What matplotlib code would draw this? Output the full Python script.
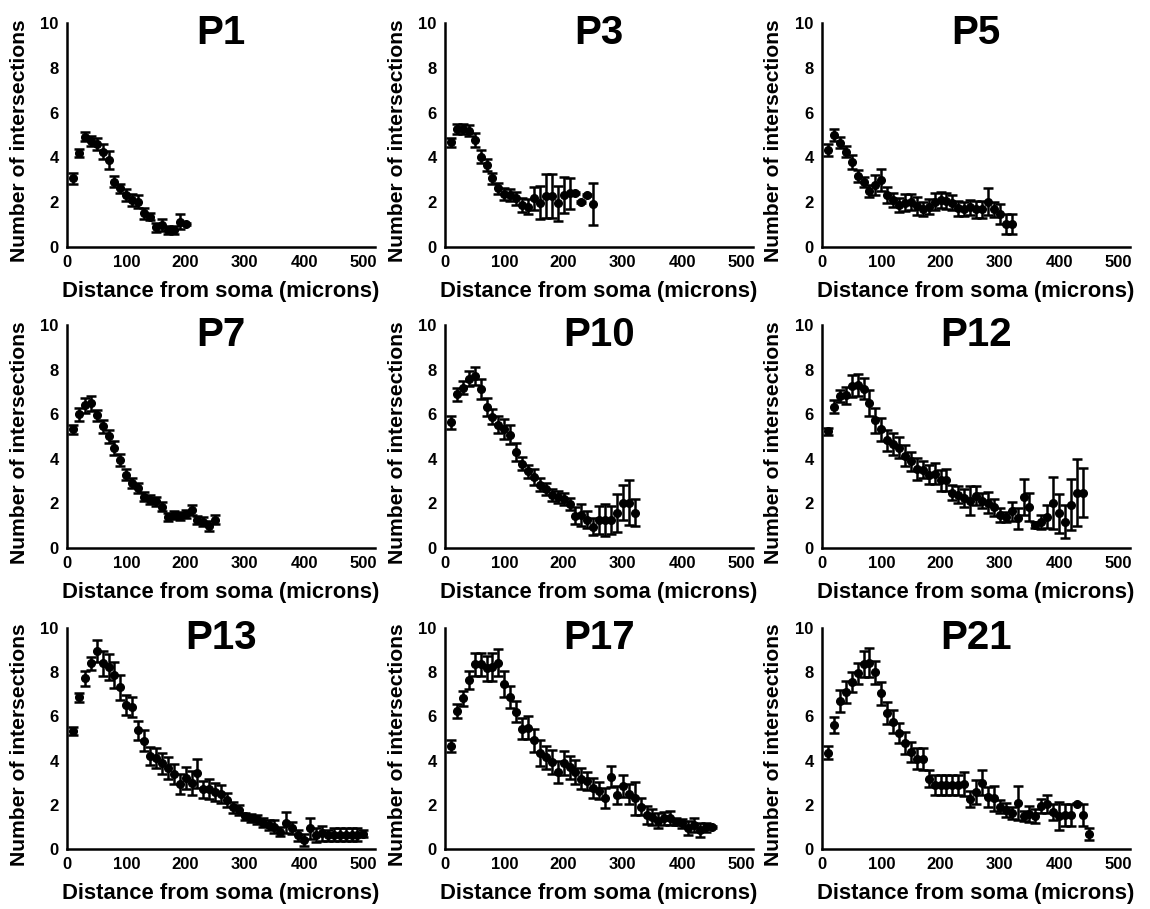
import numpy as np
import matplotlib.pyplot as plt

plt.rcParams['font.family'] = ['Liberation Sans', 'DejaVu Sans']
plt.rcParams['font.weight'] = 'bold'

# Sholl analysis: mean number of intersections (+/- SEM) every 10 microns from the soma
step = 10

p1_mean = [3.07, 4.18, 4.93, 4.75, 4.6, 4.25, 3.88, 2.92, 2.62, 2.32, 2.1, 2.02, 1.5, 1.35,
           0.88, 0.98, 0.76, 0.76, 1.13, 1.03]
p1_sem = [0.25, 0.18, 0.22, 0.22, 0.28, 0.34, 0.39, 0.25, 0.19, 0.26, 0.28, 0.28, 0.25, 0.15,
          0.2, 0.28, 0.19, 0.16, 0.33, 0.05]

p3_mean = [4.67, 5.27, 5.27, 5.19, 4.78, 4.03, 3.66, 3.07, 2.62, 2.37, 2.32, 2.17, 1.88, 1.8,
           2.17, 1.98, 2.28, 2.28, 1.95, 2.32, 2.4, 2.42, 2.02, 2.32, 1.92]
p3_sem = [0.2, 0.22, 0.22, 0.25, 0.33, 0.3, 0.28, 0.25, 0.24, 0.27, 0.25, 0.3, 0.32, 0.35,
          0.5, 0.75, 1.0, 0.97, 0.78, 0.8, 0.7, 0.05, 0.05, 0.05, 0.92]

p5_mean = [4.33, 5.0, 4.66, 4.25, 3.81, 3.17, 2.92, 2.51, 2.77, 2.99, 2.32, 2.1, 1.88, 1.98,
           2.02, 1.83, 1.68, 1.8, 2.02, 2.1, 2.05, 1.98, 1.73, 1.68, 1.77, 1.68, 1.68, 2.02,
           1.68, 1.47, 1.03, 1.03]
p5_sem = [0.25, 0.25, 0.25, 0.24, 0.31, 0.28, 0.22, 0.26, 0.45, 0.5, 0.37, 0.33, 0.32, 0.37,
          0.36, 0.39, 0.31, 0.35, 0.37, 0.35, 0.37, 0.35, 0.33, 0.31, 0.34, 0.37, 0.37, 0.6,
          0.33, 0.45, 0.45, 0.45]

p7_mean = [5.32, 5.99, 6.4, 6.49, 5.95, 5.46, 5.01, 4.49, 3.96, 3.29, 2.91, 2.69, 2.31, 2.16,
           2.09, 1.86, 1.41, 1.49, 1.44, 1.53, 1.71, 1.26, 1.18, 0.99, 1.26]
p7_sem = [0.22, 0.3, 0.33, 0.35, 0.25, 0.28, 0.28, 0.3, 0.26, 0.26, 0.22, 0.22, 0.2, 0.2,
          0.21, 0.2, 0.18, 0.19, 0.19, 0.19, 0.22, 0.18, 0.19, 0.22, 0.2]

p10_mean = [5.64, 6.89, 7.19, 7.6, 7.7, 7.15, 6.34, 5.89, 5.54, 5.35, 5.09, 4.29, 3.78, 3.44,
            3.18, 2.84, 2.64, 2.39, 2.28, 2.19, 1.98, 1.44, 1.49, 1.26, 0.96, 1.26, 1.26, 1.26,
            1.56, 2.04, 2.04, 1.59]
p10_sem = [0.28, 0.3, 0.28, 0.35, 0.4, 0.45, 0.41, 0.34, 0.4, 0.45, 0.43, 0.4, 0.29, 0.3,
           0.35, 0.3, 0.28, 0.28, 0.28, 0.27, 0.28, 0.38, 0.5, 0.38, 0.38, 0.64, 0.7, 0.64,
           0.86, 0.79, 1.01, 0.6]

p12_mean = [5.24, 6.34, 6.82, 6.85, 7.27, 7.3, 7.15, 6.52, 5.74, 5.32, 4.83, 4.68, 4.49, 4.14,
            3.89, 3.54, 3.51, 3.29, 3.33, 3.03, 3.06, 2.49, 2.39, 2.24, 2.13, 2.34, 2.13, 2.04,
            1.83, 1.49, 1.41, 1.64, 1.34, 2.28, 1.83, 1.04, 1.18, 1.41, 2.01, 1.56, 1.18, 1.94,
            2.49, 2.49]
p12_sem = [0.15, 0.28, 0.28, 0.37, 0.48, 0.5, 0.46, 0.58, 0.56, 0.52, 0.47, 0.5, 0.47, 0.47,
           0.43, 0.48, 0.39, 0.42, 0.48, 0.48, 0.48, 0.35, 0.39, 0.41, 0.63, 0.42, 0.33, 0.48,
           0.39, 0.3, 0.22, 0.42, 0.47, 0.82, 0.63, 0.15, 0.32, 0.5, 1.17, 0.88, 0.74, 1.15,
           1.52, 1.1]

p13_mean = [5.35, 6.86, 7.72, 8.4, 8.97, 8.4, 8.25, 7.87, 7.32, 6.52, 6.41, 5.38, 4.9, 4.2,
            4.1, 3.88, 3.65, 3.39, 2.94, 3.2, 2.97, 3.42, 2.7, 2.7, 2.59, 2.49, 2.22, 1.89,
            1.76, 1.49, 1.39, 1.34, 1.19, 1.09, 1.01, 0.78, 1.19, 0.94, 0.63, 0.41, 0.94, 0.63,
            0.71, 0.63, 0.65, 0.65, 0.65, 0.65, 0.65, 0.7]
p13_sem = [0.19, 0.2, 0.33, 0.31, 0.5, 0.56, 0.58, 0.6, 0.57, 0.45, 0.45, 0.43, 0.48, 0.42,
           0.45, 0.48, 0.5, 0.45, 0.45, 0.49, 0.54, 0.67, 0.37, 0.45, 0.4, 0.41, 0.33, 0.24,
           0.22, 0.16, 0.19, 0.2, 0.2, 0.24, 0.3, 0.21, 0.48, 0.28, 0.25, 0.26, 0.47, 0.31,
           0.35, 0.25, 0.3, 0.3, 0.3, 0.3, 0.3, 0.15]

p17_mean = [4.66, 6.24, 6.82, 7.65, 8.37, 8.37, 8.18, 8.25, 8.43, 7.47, 6.86, 6.21, 5.45, 5.49,
            4.92, 4.34, 4.16, 3.94, 3.49, 3.89, 3.69, 3.49, 3.19, 3.09, 2.75, 2.64, 2.29, 3.27,
            2.44, 2.85, 2.49, 2.29, 1.91, 1.54, 1.46, 1.28, 1.39, 1.39, 1.24, 1.16, 0.94, 1.09,
            0.86, 0.98, 0.98]
p17_sem = [0.26, 0.3, 0.33, 0.42, 0.52, 0.52, 0.56, 0.63, 0.62, 0.6, 0.5, 0.48, 0.47, 0.52,
           0.52, 0.58, 0.52, 0.54, 0.5, 0.54, 0.54, 0.54, 0.47, 0.41, 0.45, 0.37, 0.45, 0.48,
           0.39, 0.48, 0.47, 0.74, 0.39, 0.42, 0.37, 0.35, 0.3, 0.32, 0.17, 0.22, 0.32, 0.32,
           0.3, 0.2, 0.05]

p21_mean = [4.36, 5.61, 6.7, 7.12, 7.57, 7.95, 8.37, 8.43, 7.99, 7.04, 6.16, 5.75, 5.23, 4.8,
            4.39, 4.09, 4.09, 3.19, 2.9, 2.9, 2.9, 2.9, 2.9, 2.94, 2.25, 2.59, 3.0, 2.36, 2.29,
            1.91, 1.76, 1.64, 2.07, 1.49, 1.58, 1.49, 1.94, 2.04, 1.67, 1.49, 1.54, 1.54, 2.04,
            1.54, 0.68]
p21_sem = [0.28, 0.37, 0.5, 0.5, 0.45, 0.48, 0.58, 0.65, 0.54, 0.52, 0.5, 0.52, 0.45, 0.48,
           0.45, 0.47, 0.5, 0.4, 0.46, 0.46, 0.46, 0.46, 0.46, 0.56, 0.37, 0.54, 0.56, 0.46,
           0.55, 0.3, 0.3, 0.28, 0.78, 0.22, 0.37, 0.32, 0.33, 0.39, 0.36, 0.62, 0.5, 0.5,
           0.02, 0.49, 0.28]

ages = ["P1", "P3", "P5", "P7", "P10", "P12", "P13", "P17", "P21"]
means = [p1_mean, p3_mean, p5_mean, p7_mean, p10_mean, p12_mean, p13_mean, p17_mean, p21_mean]
sems = [p1_sem, p3_sem, p5_sem, p7_sem, p10_sem, p12_sem, p13_sem, p17_sem, p21_sem]

fig = plt.figure(figsize=(11.5, 9.09), dpi=100)

lefts = [0.0583, 0.387, 0.7148]
bottoms = [0.7283, 0.3971, 0.066]
heights = [0.2464, 0.2453, 0.2431]
width = 0.268

for i in range(9):
    row, col = divmod(i, 3)
    ax = fig.add_axes([lefts[col], bottoms[row], width, heights[row]])
    radius = np.arange(1, len(means[i]) + 1) * step
    ax.errorbar(radius, means[i], yerr=sems[i], fmt='o', color='black', ms=5.5,
                elinewidth=1.8, capsize=3.3, capthick=1.8, clip_on=False)

    ax.set_xlim(0, 520)
    ax.set_ylim(0, 10)
    ax.set_xticks(range(0, 501, 100))
    ax.set_yticks(range(0, 11, 2))
    ax.spines['top'].set_visible(False)
    ax.spines['right'].set_visible(False)
    ax.spines['left'].set_linewidth(1.8)
    ax.spines['bottom'].set_linewidth(1.8)
    ax.tick_params(length=0, labelsize=12, pad=6)

    ax.set_xlabel('Distance from soma (microns)', fontsize=15.8, fontweight='bold', labelpad=8)
    ax.set_ylabel('Number of intersections', fontsize=15.2, fontweight='bold')
    ax.yaxis.set_label_coords(-0.125, 0.473)
    ax.text(0.5, 0.955, ages[i], transform=ax.transAxes, ha='center', va='center',
            fontsize=29, fontweight='bold')

fig.savefig('out.png', dpi=100)
